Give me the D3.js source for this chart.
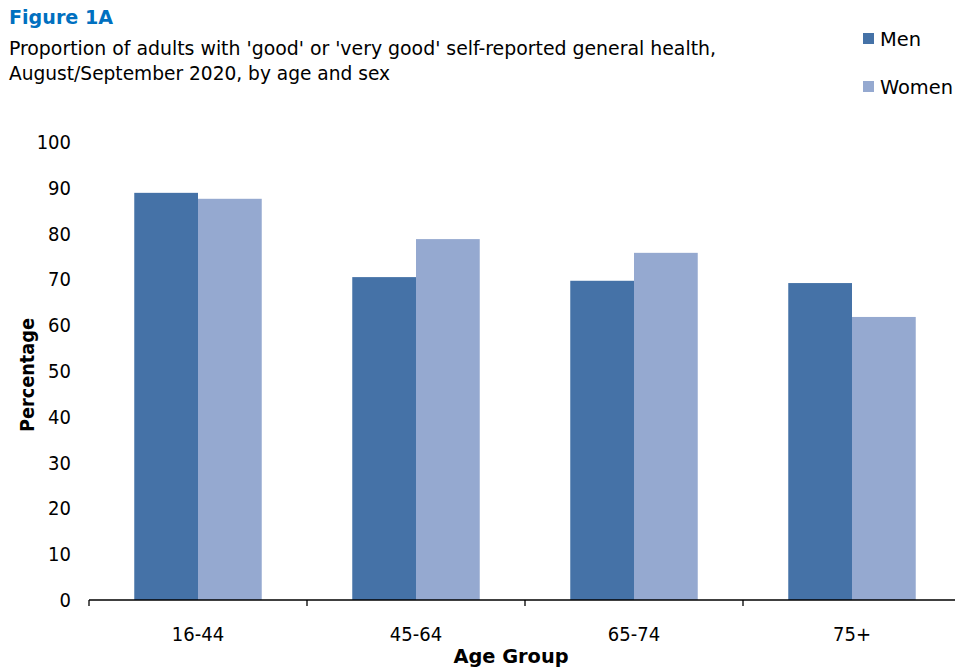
<!DOCTYPE html>
<html><head><meta charset="utf-8">
<script src="https://cdn.jsdelivr.net/npm/d3@7"></script>
<style>body{margin:0;background:#fff}svg{display:block}text{font-family:"DejaVu Sans Condensed","DejaVu Sans",sans-serif;fill:#000}</style>
</head><body>
<script>
const categories = ["16-44", "45-64", "65-74", "75+"];
const seriesNames = ["Men", "Women"];
const men = [88.9, 70.5, 69.7, 69.2];
const women = [87.6, 78.8, 75.8, 61.8];
const yTicks = [0, 10, 20, 30, 40, 50, 60, 70, 80, 90, 100];
const colors = ["#4572a7", "#95a9d0"];

const W = 955, H = 669;
const svg = d3.select("body").append("svg").attr("width", W).attr("height", H);

const x0 = d3.scaleBand().domain(categories).range([89, 961]).paddingInner(0).paddingOuter(0);
const x1 = d3.scaleBand().domain(seriesNames).range([0, x0.bandwidth()]).paddingInner(0).paddingOuter(0.71);
const y = d3.scaleLinear().domain([0, 100]).range([600, 142]);

// Title
svg.append("text").attr("x", 9).attr("y", 24).text("Figure 1A")
  .attr("textLength", 104).attr("lengthAdjust", "spacingAndGlyphs")
  .style("font-weight", "bold").style("font-size", "20px").style("fill", "#0070c0");
svg.append("text").attr("x", 9).attr("y", 55).style("font-size", "19px")
  .attr("textLength", 707).attr("lengthAdjust", "spacingAndGlyphs")
  .text("Proportion of adults with 'good' or 'very good' self-reported general health,");
svg.append("text").attr("x", 9).attr("y", 80).style("font-size", "19px")
  .attr("textLength", 381).attr("lengthAdjust", "spacingAndGlyphs")
  .text("August/September 2020, by age and sex");

// Legend
const legend = svg.append("g");
const legendW = [41, 73];
seriesNames.forEach((s, i) => {
  const ly = 38 + i * 48;
  legend.append("rect").attr("x", 863).attr("y", ly - 5).attr("width", 11).attr("height", 11).attr("fill", colors[i]);
  legend.append("text").attr("x", 880).attr("y", ly + 8).style("font-size", "20px")
    .attr("textLength", legendW[i]).attr("lengthAdjust", "spacingAndGlyphs").text(s);
});

// Bars
const data = categories.map((c, i) => ({cat: c, vals: [men[i], women[i]]}));
const g = svg.append("g");
data.forEach(d => {
  d.vals.forEach((v, j) => {
    g.append("rect")
      .attr("x", x0(d.cat) + x1(seriesNames[j]))
      .attr("y", y(v))
      .attr("width", x1.bandwidth())
      .attr("height", y(0) - y(v))
      .attr("fill", colors[j]);
  });
});

// Y axis labels
const yAxis = d3.axisLeft(y).tickValues(yTicks).tickSize(0).tickPadding(0);
const ya = svg.append("g").attr("transform", "translate(71,0)").call(yAxis);
ya.select(".domain").remove();
ya.selectAll("text").style("font-size", "20px").style("font-family", '"DejaVu Sans Condensed","DejaVu Sans",sans-serif').attr("fill", "#000");

// X axis
const xa = svg.append("g").attr("transform", "translate(0,600)");
xa.append("line").attr("x1", 89).attr("x2", 961).attr("y1", 0).attr("y2", 0).attr("stroke", "#000").attr("stroke-width", 1.3);
const tickPos = categories.map(c => x0(c)).concat([x0.range()[1]]);
tickPos.forEach(t => {
  xa.append("line").attr("x1", t).attr("x2", t).attr("y1", 0).attr("y2", 6).attr("stroke", "#000").attr("stroke-width", 1.3);
});
categories.forEach(c => {
  xa.append("text").attr("x", x0(c) + x0.bandwidth() / 2).attr("y", 41)
    .attr("text-anchor", "middle").style("font-size", "20px").text(c);
});

// Axis titles
svg.append("text").attr("x", 511).attr("y", 663).attr("text-anchor", "middle")
  .attr("textLength", 115).attr("lengthAdjust", "spacingAndGlyphs")
  .style("font-weight", "bold").style("font-size", "19px").text("Age Group");
svg.append("text").attr("transform", "translate(34,375) rotate(-90)").attr("text-anchor", "middle")
  .attr("textLength", 114).attr("lengthAdjust", "spacingAndGlyphs")
  .style("font-weight", "bold").style("font-size", "20px").text("Percentage");
</script>
</body></html>
